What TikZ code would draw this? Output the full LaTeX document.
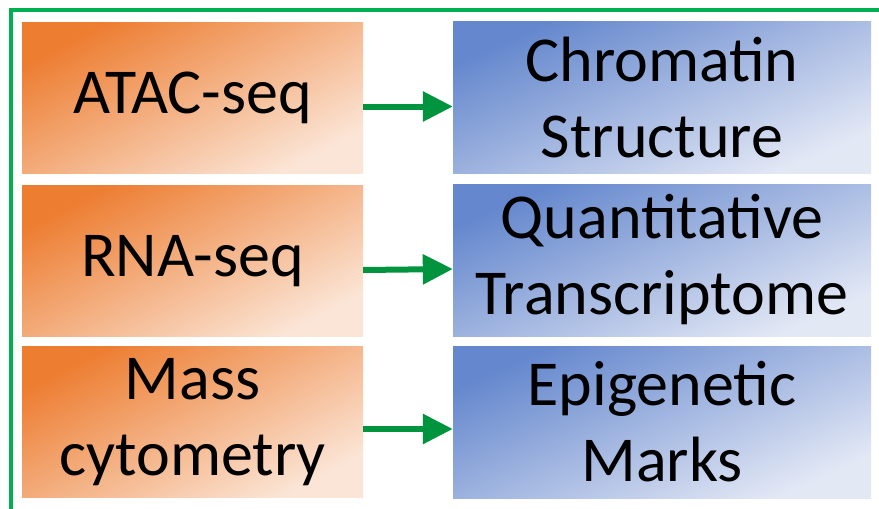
\documentclass[tikz,border=0pt]{standalone}
\usepackage{fontspec}
\setmainfont{Carlito}
\usepackage{xcolor}
\usepackage{tikz}
\usetikzlibrary{arrows.meta}
\definecolor{frameg}{HTML}{00B050}
\definecolor{arrowg}{HTML}{00943F}
\definecolor{omicA}{HTML}{ED7D31}
\definecolor{omicB}{HTML}{FBE5D6}
\definecolor{traitA}{HTML}{6487CD}
\definecolor{traitB}{HTML}{E3E8F5}
\tikzset{
  frame/.style={draw=frameg, line width=3.5pt},
  omic/.style={rectangle, inner sep=0pt, minimum width=341pt, minimum height=151pt,
    top color=omicA, bottom color=omicB, shading angle=28, align=center,
    font=\fontsize{64}{76}\selectfont},
  trait/.style={rectangle, inner sep=0pt, minimum width=418pt, minimum height=152pt,
    top color=traitA, bottom color=traitB, shading angle=24, align=center,
    font=\fontsize{64}{76}\selectfont},
  link/.style={draw=arrowg, line width=6pt, -{Triangle[length=30pt,width=29pt]}},
}
\begin{document}
\begin{tikzpicture}[x=1pt,y=-1pt]
  \useasboundingbox (0,0) rectangle (879,509);
  \draw[frame] (885,10) -- (11,10) -- (11,515);
  \node[omic] (atac) at (192.5,97.5) {ATAC-seq};
  \node[omic] (rna) at (192.5,261) {RNA-seq};
  \node[omic] (mass) at (192.5,422) {Mass\\cytometry};
  \node[trait] (chrom) at (662,97.5) {Chromatin\\Structure};
  \node[trait] (quant) at (662,260) {Quantitative\\Transcriptome};
  \node[trait] (epi) at (662,422) {Epigenetic\\Marks};
  \draw[link] ([yshift=-9pt]atac.east) -- ([yshift=-9pt]chrom.west);
  \draw[link] ([yshift=-9pt]rna.east) -- ([yshift=-9pt]quant.west);
  \draw[link] ([yshift=-7pt]mass.east) -- ([yshift=-7pt]epi.west);
\end{tikzpicture}
\end{document}
